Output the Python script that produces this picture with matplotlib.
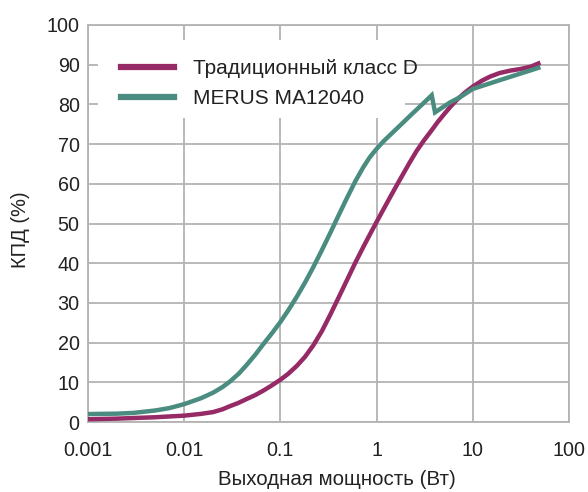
import matplotlib
matplotlib.use("Agg")
import matplotlib.pyplot as plt
from matplotlib.patches import Rectangle

# Efficiency vs. output power
power_classd = [0.001, 0.002, 0.005, 0.01, 0.015, 0.02, 0.025, 0.03, 0.0365, 0.0447,
                0.055, 0.0664, 0.08, 0.1, 0.12, 0.1476, 0.18, 0.2197, 0.27, 0.328,
                0.4, 0.489, 0.6, 0.728, 0.85, 1.0, 1.18, 1.38, 1.6, 1.82,
                2.2, 2.61, 3.1, 3.74, 4.3, 4.94, 5.8, 6.79, 8.2, 10,
                12.5, 15.1, 19, 24.4, 31, 40, 48]
eff_classd = [0.7, 0.85, 1.2, 1.6, 2.05, 2.5, 3.2, 4.0, 4.8, 5.8,
              6.8, 7.9, 9.1, 10.65, 12.1, 14.1, 16.4, 19.3, 22.9, 26.9,
              31.2, 35.6, 40.1, 44.1, 47.2, 50.4, 53.6, 56.6, 59.4, 61.8,
              65.3, 68.3, 70.9, 73.5, 75.5, 77.3, 79.3, 81.1, 82.9, 84.5,
              86.0, 87.0, 87.9, 88.5, 88.9, 89.5, 90.3]

power_merus = [0.001, 0.002, 0.003, 0.005, 0.007, 0.01, 0.015, 0.02, 0.025, 0.0299,
               0.037, 0.0447, 0.055, 0.0664, 0.082, 0.1, 0.122, 0.1476, 0.18, 0.2197,
               0.27, 0.328, 0.4, 0.489, 0.6, 0.728, 0.85, 1.0, 1.18, 1.38,
               1.62, 1.9, 2.2, 2.61, 3.1, 3.74, 4.05, 5.8, 7.36, 10,
               20.8, 48]
eff_merus = [2.0, 2.1, 2.3, 2.9, 3.5, 4.5, 6.0, 7.4, 8.8, 10.2,
             12.2, 14.4, 17.0, 19.6, 22.4, 25.2, 28.3, 31.5, 35.1, 39.0,
             43.3, 47.5, 51.9, 56.3, 60.6, 64.2, 66.7, 68.8, 70.7, 72.3,
             73.9, 75.5, 77.0, 78.7, 80.4, 82.3, 78.0, 80.5, 81.8, 83.9,
             86.4, 89.2]

series_labels = ["Традиционный класс D", "MERUS MA12040"]
x_ticks = [0.001, 0.01, 0.1, 1, 10, 100]
x_tick_labels = ["0.001", "0.01", "0.1", "1", "10", "100"]
y_ticks = list(range(0, 101, 10))

plt.rcParams["font.family"] = ["Liberation Sans", "DejaVu Sans"]

fig = plt.figure(figsize=(5.88, 4.92), dpi=100)
ax = fig.add_axes([88 / 588, 1 - 422 / 492, 481 / 588, 397 / 492])

purple = "#952a66"
teal = "#4a8c80"
grid_c = "#b3b3b3"
text_c = "#222222"

ax.plot(power_classd, eff_classd, color=purple, lw=3.2, label=series_labels[0],
        solid_joinstyle="round", zorder=3)
ax.plot(power_merus, eff_merus, color=teal, lw=3.2, label=series_labels[1],
        solid_joinstyle="miter", zorder=3)

ax.set_xscale("log")
ax.set_xlim(0.001, 100)
ax.set_ylim(0, 100)
ax.set_xticks(x_ticks)
ax.set_xticklabels(x_tick_labels)
ax.minorticks_off()
ax.set_yticks(y_ticks)

ax.grid(True, color=grid_c, lw=1.3)
ax.set_axisbelow(True)
for s in ax.spines.values():
    s.set_color(grid_c)
    s.set_linewidth(1.3)

ax.tick_params(axis="both", length=0, labelsize=14.2, labelcolor=text_c)
ax.tick_params(axis="x", pad=14)
ax.tick_params(axis="y", pad=6)

ax.set_xlabel("Выходная мощность (Вт)", fontsize=14.8, color=text_c)
ax.xaxis.set_label_coords(0.517, -0.121)
ax.set_ylabel("КПД (%)", fontsize=14.5, color=text_c)
ax.yaxis.set_label_coords(-0.12, 0.484)

# white backdrop behind the legend, under the curves
ax.add_patch(Rectangle((0.021, 0.766), 0.638, 0.196, transform=ax.transAxes,
                       facecolor="white", edgecolor="none", zorder=1))

leg = ax.legend(loc="upper left", bbox_to_anchor=(0.029, 0.962),
                borderaxespad=0, fontsize=15, frameon=False,
                handlelength=2.55, handletextpad=0.9,
                labelspacing=0.55, borderpad=0.9)
leg.set_zorder(2)
for line in leg.get_lines():
    line.set_linewidth(4.5)
for t in leg.get_texts():
    t.set_color(text_c)

fig.savefig("out.png", dpi=100, facecolor="white")
